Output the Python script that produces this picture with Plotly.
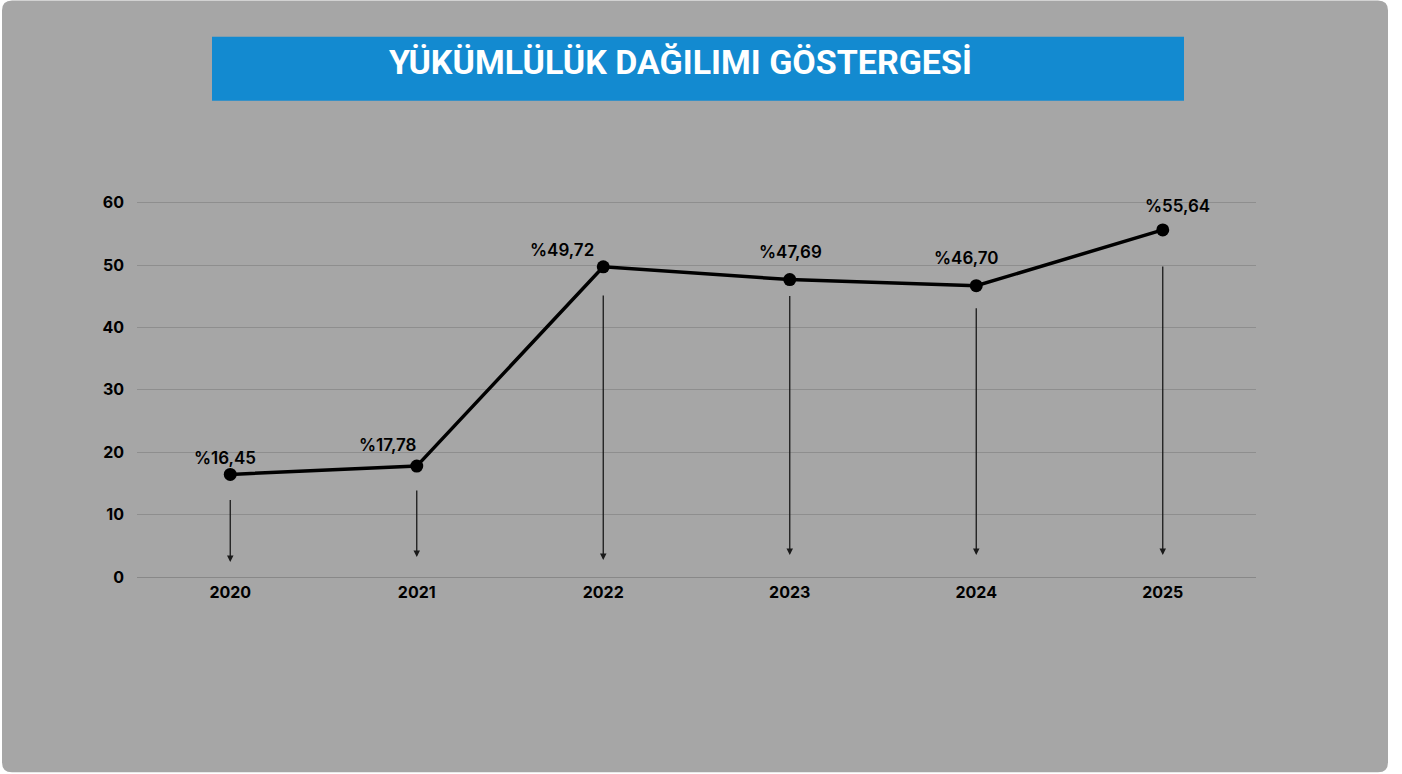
import plotly.graph_objects as go

years = ["2020", "2021", "2022", "2023", "2024", "2025"]
values = [16.45, 17.78, 49.72, 47.69, 46.70, 55.64]
labels = ["%16,45", "%17,78", "%49,72", "%47,69", "%46,70", "%55,64"]
y_ticks = [0, 10, 20, 30, 40, 50, 60]
title_text = "YÜKÜMLÜLÜK DAĞILIMI GÖSTERGESİ"

W, H = 1402, 774
YMAX = 60.6
L, R, B = 137, 1256, 577
T = B - 374 * YMAX / 60  # so that 60 sits at y=203

def px(x):
    return (x - L) / (R - L)

def py(y):
    return (B - y) / (B - T)

# label offsets (pixels) relative to the point
label_dx = [-5, -29, -41, 1, -10, 15]
label_dy = [16, 21, 17, 28, 28, 24]
# arrow tail offset below point (pixels) and head position
tail_dy = [24, 23, 27, 15, 21, 35]
head_py = [562, 557, 560, 555, 555, 555]

fig = go.Figure()
fig.add_trace(go.Scatter(
    x=list(range(len(years))), y=values, mode="lines+markers",
    line=dict(color="black", width=3.5),
    marker=dict(color="black", size=13),
    hoverinfo="skip", showlegend=False,
))

shapes = []
# rounded gray panel
x0, x1, y0, y1, r = 2, 1388, 1, 772, 10
rx, ry = r / (R - L), r / (B - T)
X0, X1, Y0, Y1 = px(x0), px(x1), py(y1), py(y0)
path = (f"M {X0+rx},{Y1} L {X1-rx},{Y1} Q {X1},{Y1} {X1},{Y1-ry} "
        f"L {X1},{Y0+ry} Q {X1},{Y0} {X1-rx},{Y0} L {X0+rx},{Y0} "
        f"Q {X0},{Y0} {X0},{Y0+ry} L {X0},{Y1-ry} Q {X0},{Y1} {X0+rx},{Y1} Z")
shapes.append(dict(type="path", xref="paper", yref="paper", path=path,
                   fillcolor="#a6a6a6", line=dict(width=0), layer="below"))
# title box
shapes.append(dict(type="rect", xref="paper", yref="paper",
                   x0=px(212), x1=px(1184), y0=py(101), y1=py(37),
                   fillcolor="#138ad0", line=dict(width=0), layer="below"))

annotations = [dict(
    xref="paper", yref="paper", x=px(680), y=py(62), text=f"<b>{title_text}</b>",
    showarrow=False, xanchor="center", yanchor="middle",
    font=dict(family="Roboto", size=34, color="white"),
)]

scale = 60 / 374
for i, (v, lab) in enumerate(zip(values, labels)):
    annotations.append(dict(
        x=i, y=v, xref="x", yref="y", text=lab, showarrow=False,
        xanchor="center", yanchor="middle", xshift=label_dx[i], yshift=label_dy[i],
        font=dict(family="Inter", size=17, color="black", weight=600),
    ))
    tail = v - tail_dy[i] * scale
    head = (B - head_py[i]) * scale
    annotations.append(dict(
        x=i, y=head, ax=i, ay=tail, xref="x", yref="y", axref="x", ayref="y",
        text="", showarrow=True, arrowhead=2, arrowsize=1.0, arrowwidth=1.3,
        arrowcolor="#1a1a1a", standoff=0, startstandoff=0,
    ))

fig.update_layout(
    width=W, height=H,
    margin=dict(l=L, r=W - R, t=T, b=H - B, pad=0),
    paper_bgcolor="white", plot_bgcolor="rgba(0,0,0,0)",
    shapes=shapes, annotations=annotations,
    font=dict(family="Inter", color="black"),
    xaxis=dict(
        tickmode="array", tickvals=list(range(len(years))), ticktext=years,
        range=[-0.5, 5.5], showgrid=False, zeroline=False, showline=False,
        ticks="", tickfont=dict(family="Inter", size=16, color="black", weight=700),
        ticklabelstandoff=4,
    ),
    yaxis=dict(
        range=[0, YMAX], tickvals=y_ticks, showgrid=True, gridcolor="#8e8e8e", gridwidth=1,
        zeroline=True, zerolinecolor="#888888", zerolinewidth=1.3, showline=False,
        ticks="", tickfont=dict(family="Inter", size=16, color="black", weight=700),
        ticklabelstandoff=12,
    ),
)

fig.write_html("out.html", config={"displayModeBar": False},
               post_script="document.body.style.margin='0';")
